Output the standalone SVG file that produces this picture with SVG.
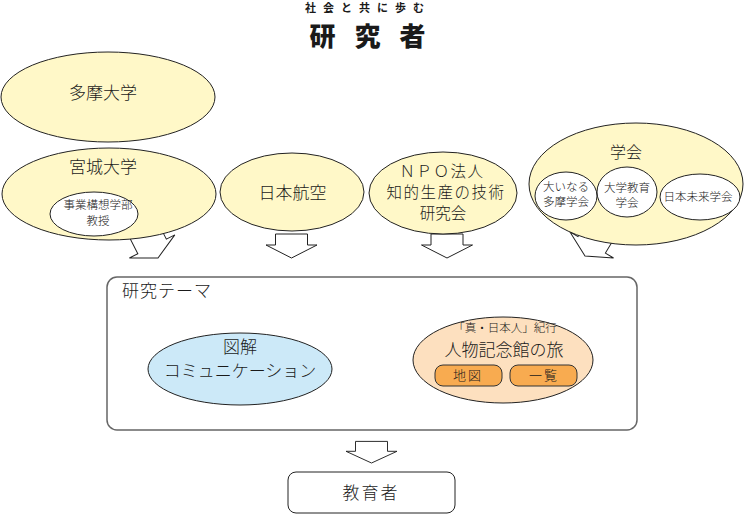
<svg xmlns="http://www.w3.org/2000/svg" width="745" height="515" viewBox="0 0 745 515">
<defs>
<style>
text{font-family:"Noto Sans CJK JP","Noto Sans",sans-serif;fill:#1a1a1a;text-anchor:middle;font-weight:300}
.y{fill:#fff8c8;stroke:#222;stroke-width:1}
.w{fill:#fff;stroke:#222;stroke-width:1}
.arr{fill:#fff;stroke:#222;stroke-width:1;stroke-linejoin:miter}
.t17{font-size:17px}
.t16{font-size:15.5px}
.t12{font-size:11.5px}
.btn{fill:#f8ab50;stroke:#333;stroke-width:1}
</style>
<path id="dn" d="M-16,-24H16V-13H25.5L0,0L-25.5,-13H-16Z"/>
<path id="dnl" d="M-16,-45H16V-13H25.5L0,0L-25.5,-13H-16Z"/>
</defs>
<rect width="745" height="515" fill="#fff"/>
<g id="title">
<text x="368" y="12" style="font-size:11px;font-weight:700;letter-spacing:7px">社会と共に歩む</text>
<text x="377" y="46" style="font-size:26px;font-weight:900;letter-spacing:19px">研究者</text>
</g>
<g id="connectors">
<use href="#dnl" class="arr" transform="translate(158,258) rotate(-27)"/>
<use href="#dnl" class="arr" transform="translate(585,256) rotate(31)"/>
<use href="#dn" class="arr" transform="translate(291.5,258)"/>
<use href="#dn" class="arr" transform="translate(447,258)"/>
<use href="#dn" class="arr" transform="translate(371.5,463) scale(1,0.9)"/>
</g>
<g id="tama">
<ellipse class="y" cx="108" cy="97" rx="107" ry="45"/>
<text class="t17" x="103" y="99">多摩大学</text>
</g>
<g id="miyagi">
<ellipse class="y" cx="109" cy="194" rx="107" ry="46"/>
<text class="t17" x="103" y="173">宮城大学</text>
<ellipse class="w" cx="94" cy="214" rx="44" ry="22"/>
<text class="t12" x="98" y="209">事業構想学部</text>
<text class="t12" x="98" y="225">教授</text>
</g>
<g id="jal">
<ellipse class="y" cx="292" cy="192" rx="72" ry="39"/>
<text class="t17" x="292.5" y="199">日本航空</text>
</g>
<g id="npo">
<ellipse class="y" cx="443" cy="193" rx="74" ry="41"/>
<text class="t16" x="442" y="177" style="letter-spacing:1.5px">ＮＰＯ法人</text>
<text class="t16" x="446" y="198" style="letter-spacing:1.5px">知的生産の技術</text>
<text class="t16" x="443" y="219">研究会</text>
</g>
<g id="gakkai">
<ellipse class="y" cx="636" cy="184" rx="107" ry="61"/>
<text x="626" y="158" style="font-size:16px">学会</text>
<g id="ooinaru">
<ellipse class="w" cx="566" cy="196" rx="31" ry="24"/>
<text class="t12" x="566" y="191">大いなる</text>
<text class="t12" x="566" y="206">多摩学会</text>
</g>
<g id="daigakukyoiku">
<ellipse class="w" cx="627" cy="192" rx="30" ry="25"/>
<text class="t12" x="627" y="192">大学教育</text>
<text class="t12" x="627" y="207">学会</text>
</g>
<g id="mirai">
<ellipse class="w" cx="700" cy="197" rx="40" ry="23"/>
<text x="698" y="201" style="font-size:11.5px">日本未来学会</text>
</g>
</g>
<g id="theme">
<rect x="107" y="277" width="530" height="153" rx="10" fill="#fff" stroke="#666" stroke-width="1.5"/>
<text class="t17" x="122" y="297" style="text-anchor:start;letter-spacing:1px">研究テーマ</text>
</g>
<g id="zukai">
<ellipse cx="240" cy="369" rx="92" ry="36" fill="#cce9f8" stroke="#222"/>
<text class="t17" x="240" y="353">図解</text>
<text class="t17" x="240" y="377">コミュニケーション</text>
</g>
<g id="kinenkan">
<ellipse cx="503" cy="360" rx="90" ry="43" fill="#fde0bf" stroke="#222"/>
<text class="t12" x="505" y="332">「真・日本人」紀行</text>
<text class="t17" x="504" y="356">人物記念館の旅</text>
<g id="chizu">
<rect class="btn" x="435" y="365" width="67" height="21" rx="8"/>
<text x="468" y="380" style="font-size:13px;letter-spacing:2px">地図</text>
</g>
<g id="ichiran">
<rect class="btn" x="510" y="365" width="67" height="21" rx="8"/>
<text x="544" y="380" style="font-size:13px;letter-spacing:2px">一覧</text>
</g>
</g>
<g id="kyoikusha">
<rect x="288" y="472" width="167" height="41" rx="8" fill="#fff" stroke="#222"/>
<text class="t17" x="371" y="499" style="letter-spacing:2px">教育者</text>
</g>
</svg>
